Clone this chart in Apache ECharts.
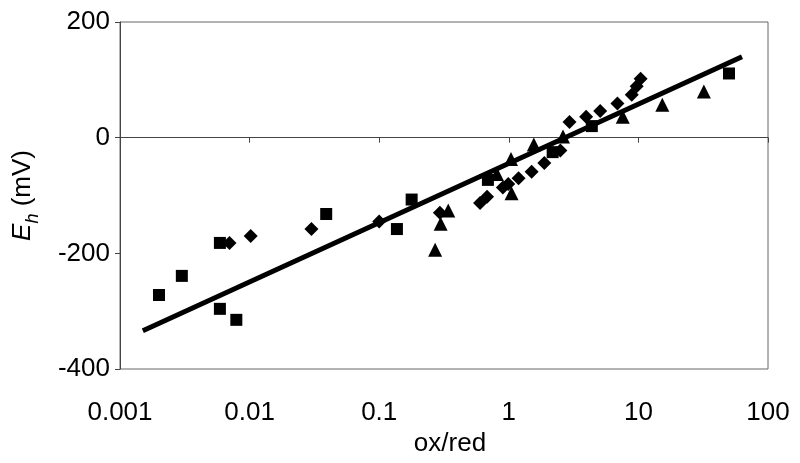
<!DOCTYPE html>
<html>
<head>
<meta charset="utf-8">
<script src="https://cdn.jsdelivr.net/npm/echarts@6/dist/echarts.min.js"></script>
<style>
  html, body { margin: 0; padding: 0; background: #fff; }
  #chart { width: 800px; height: 463px; }
</style>
</head>
<body>
<div id="chart"></div>
<script>
  // ox/red, Eh (mV)
  let squarePoints = [
    [0.002, -272], [0.003, -239], [0.0059, -182], [0.0059, -296], [0.0079, -315],
    [0.039, -132], [0.137, -158], [0.178, -107], [0.69, -73], [2.18, -25],
    [4.37, 20], [50, 111]
  ];
  let diamondPoints = [
    [0.007, -182], [0.0102, -170], [0.03, -158], [0.1, -145], [0.294, -130],
    [0.6, -113], [0.68, -102], [0.9, -86], [0.99, -80], [1.19, -70],
    [1.5, -59], [1.88, -44], [2.5, -22], [2.94, 27], [3.95, 36],
    [5.07, 46], [6.89, 59], [8.89, 74], [9.7, 89], [10.4, 102]
  ];
  let trianglePoints = [
    [0.27, -194], [0.298, -149], [0.341, -126], [0.81, -63], [1.04, -37],
    [1.05, -96], [1.56, -12], [2.62, 2], [7.57, 36], [15.3, 57], [32, 80]
  ];
  let fitLine = [[0.0015, -334], [63, 140]];
  let xTicks = [0.001, 0.01, 0.1, 1, 10, 100];

  let baseFont = {
    fontFamily: 'Liberation Sans, Arial, sans-serif',
    fontSize: 26,
    color: '#000'
  };

  let chart = echarts.init(document.getElementById('chart'));
  chart.setOption({
    animation: false,
    grid: {
      left: 120,
      right: 32,
      top: 22,
      bottom: 94,
      show: true,
      borderColor: '#666',
      borderWidth: 1
    },
    xAxis: {
      type: 'log',
      logBase: 10,
      min: xTicks[0],
      max: xTicks[xTicks.length - 1],
      name: 'ox/red',
      nameLocation: 'middle',
      nameGap: 56,
      nameTextStyle: Object.assign({ padding: [0, 0, 0, 12] }, baseFont),
      axisLine: { lineStyle: { color: '#444', width: 1 } },
      axisTick: { show: true, length: 5, lineStyle: { color: '#444' } },
      minorTick: { show: false },
      splitLine: { show: false },
      axisLabel: Object.assign({
        margin: 31,
        formatter: function (v) {
          return String(v);
        }
      }, baseFont)
    },
    yAxis: {
      type: 'value',
      min: -400,
      max: 200,
      interval: 200,
      name: '{i|E}{s|h} (mV)',
      nameLocation: 'middle',
      nameGap: 84,
      nameRotate: 90,
      nameTextStyle: Object.assign({
        rich: {
          i: { fontFamily: 'Liberation Sans, Arial, sans-serif', fontSize: 26, fontStyle: 'italic', color: '#000' },
          s: { fontFamily: 'Liberation Sans, Arial, sans-serif', fontSize: 18, fontStyle: 'italic', color: '#000', verticalAlign: 'bottom', padding: [0, 0, -6, 0] }
        }
      }, baseFont),
      axisLine: { show: true, lineStyle: { color: '#444', width: 1 } },
      axisTick: { show: true, length: 5, lineStyle: { color: '#444' } },
      splitLine: { show: false },
      axisLabel: Object.assign({ margin: 10 }, baseFont)
    },
    series: [
      {
        name: 'fit',
        type: 'line',
        data: fitLine,
        showSymbol: false,
        lineStyle: { color: '#000', width: 5 },
        z: 1
      },
      {
        name: 'square',
        type: 'scatter',
        symbol: 'rect',
        symbolSize: 12,
        data: squarePoints,
        itemStyle: { color: '#000', opacity: 1 },
        z: 3
      },
      {
        name: 'diamond',
        type: 'scatter',
        symbol: 'diamond',
        symbolSize: 14,
        data: diamondPoints,
        itemStyle: { color: '#000', opacity: 1 },
        z: 3
      },
      {
        name: 'triangle',
        type: 'scatter',
        symbol: 'triangle',
        symbolSize: 14,
        data: trianglePoints,
        itemStyle: { color: '#000', opacity: 1 },
        z: 3
      }
    ]
  });

  window.addEventListener('resize', () => {
    chart.resize();
  });
</script>
</body>
</html>
